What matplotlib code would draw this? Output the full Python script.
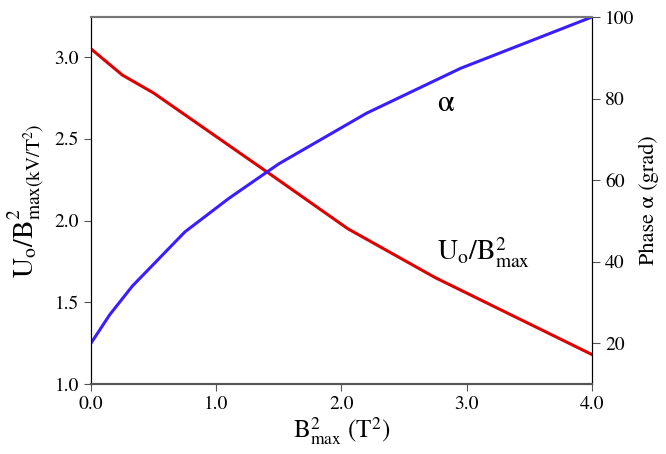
import matplotlib
matplotlib.use("Agg")
import matplotlib.pyplot as plt

plt.rcParams['font.family'] = ['STIXGeneral', 'DejaVu Serif']
plt.rcParams['mathtext.fontset'] = 'stix'

# U0/B^2max curve (left axis)
u_x = [0.0, 0.25, 0.5, 1.4, 2.05, 2.75, 4.0]
u_y = [3.05, 2.89, 2.78, 2.30, 1.95, 1.65, 1.18]

# phase alpha curve (right axis)
a_x = [0.0, 0.15, 0.33, 0.75, 1.1, 1.5, 2.2, 2.95, 4.0]
a_y = [20, 27, 34, 47.3, 55.5, 64, 76.4, 87.4, 100]

x_ticks = [0.0, 1.0, 2.0, 3.0, 4.0]
left_ticks = [1.0, 1.5, 2.0, 2.5, 3.0]
right_ticks = [20, 40, 60, 80, 100]

fig = plt.figure(figsize=(6.66, 4.54), dpi=100)
ax = fig.add_axes([0.1366, 0.1542, 0.7523, 0.8084])
ax2 = ax.twinx()

ax.plot(u_x, u_y, color="#dd0000", lw=2.2)
ax2.plot(a_x, a_y, color="#3a1eff", lw=2.2)

ax.set_xlim(0, 4.0)
ax.set_ylim(1.0, 3.245)
ax2.set_ylim(10, 100)

ax.set_xticks(x_ticks)
ax.set_xticklabels(["%.1f" % v for v in x_ticks])
ax.set_yticks(left_ticks)
ax.set_yticklabels(["%.1f" % v for v in left_ticks])
ax2.set_yticks(right_ticks)

ax.tick_params(axis='both', direction='out', length=5, labelsize=14, color='#555555')
ax2.tick_params(axis='y', direction='out', length=6, labelsize=14, color='#555555')

for a in (ax, ax2):
    a.spines['top'].set_color('#777777')
    a.spines['bottom'].set_color('#555555')
    a.spines['top'].set_linewidth(1.5)
    a.spines['bottom'].set_linewidth(1.5)

ax.set_xlabel(r"B$^2_{\rm max}$ (T$^2$)", fontsize=18, labelpad=2)
ax.set_ylabel(r"U$_{\rm o}$/B$^2_{\rm max(kV/T^2)}$", fontsize=20, labelpad=6)
ax2.set_ylabel("Phase α (grad)", fontsize=16, labelpad=3)

ax.text(2.83, 2.71, "α", fontsize=22, ha='center', va='center')
ax.text(3.13, 1.80, r"U$_{\rm o}$/B$^2_{\rm max}$", fontsize=20, ha='center', va='center')

fig.savefig("out.png", dpi=100)
